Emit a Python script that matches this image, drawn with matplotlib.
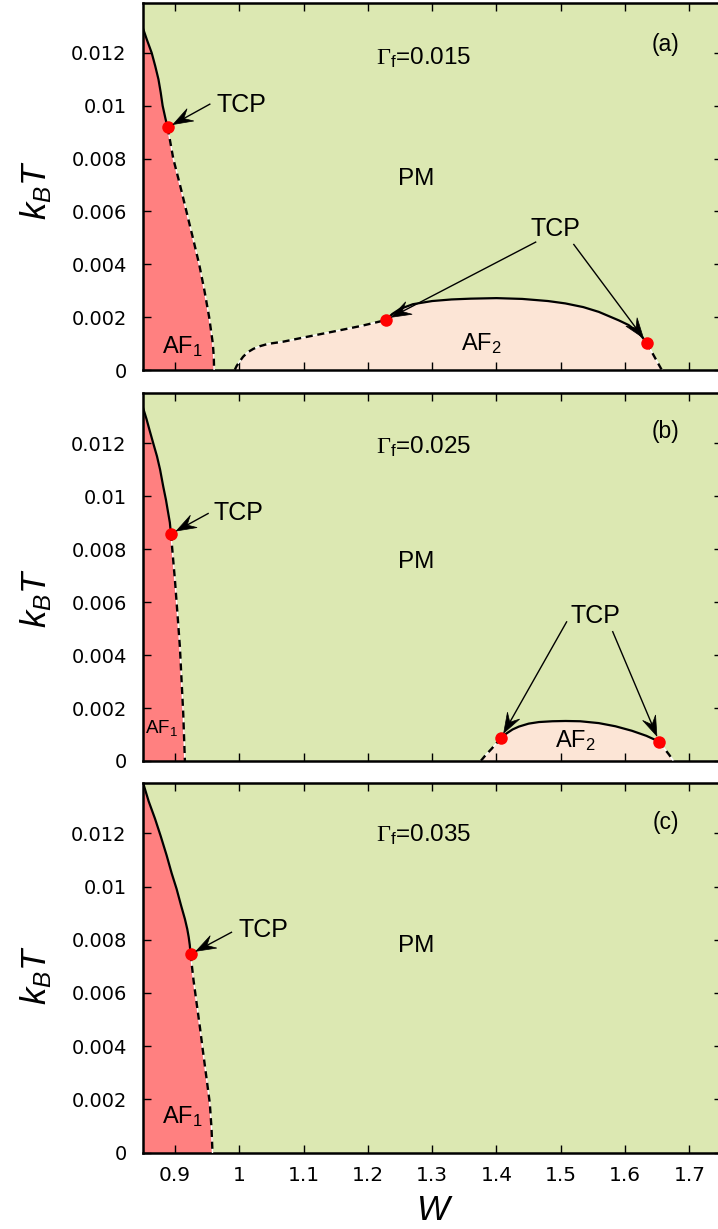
import numpy as np
import matplotlib
matplotlib.use("Agg")
import matplotlib.pyplot as plt
from matplotlib.patches import Polygon
from matplotlib.lines import Line2D
from matplotlib.transforms import IdentityTransform

plt.rcParams['font.family'] = ['Liberation Sans', 'DejaVu Sans']
plt.rcParams['mathtext.fontset'] = 'custom'
plt.rcParams['mathtext.rm'] = 'Liberation Serif'
plt.rcParams['mathtext.sf'] = 'Liberation Sans'
plt.rcParams['mathtext.it'] = 'Liberation Sans:italic'
plt.rcParams['mathtext.bf'] = 'Liberation Sans:bold'

# colours of the phases
c_pm = '#dce8b2'
c_af1 = '#ff8080'
c_af2 = '#fce5d6'

x_ticks = [0.9, 1.0, 1.1, 1.2, 1.3, 1.4, 1.5, 1.6, 1.7]
x_tick_labels = ['0.9', '1', '1.1', '1.2', '1.3', '1.4', '1.5', '1.6', '1.7']
y_ticks = [0, 0.002, 0.004, 0.006, 0.008, 0.010, 0.012]
y_tick_labels = ['0', '0.002', '0.004', '0.006', '0.008', '0.01', '0.012']

gamma_f = ['0.015', '0.025', '0.035']
panel_tags = ['(a)', '(b)', '(c)']

# ---- panel (a), Gamma_f = 0.015 ----
a_af1_sol_T = [0.01296, 0.0125, 0.0120, 0.0115, 0.0110, 0.0105, 0.0100, 0.0095, 0.00918]
a_af1_sol_W = [0.850, 0.8565, 0.864, 0.8695, 0.8745, 0.878, 0.881, 0.8855, 0.8888]
a_af1_dash_T = [0.00918, 0.008, 0.007, 0.006, 0.005, 0.004, 0.003, 0.002, 0.001, 0.0005, 0.0]
a_af1_dash_W = [0.8888, 0.8975, 0.908, 0.918, 0.928, 0.9378, 0.946, 0.9533, 0.959, 0.9605, 0.961]
a_af2_dl_W = [0.993, 0.996, 1.000, 1.006, 1.013, 1.022, 1.032, 1.045, 1.068, 1.100, 1.1455, 1.190, 1.228]
a_af2_dl_T = [0.0, 0.00015, 0.0003, 0.0005, 0.00067, 0.0008, 0.0009, 0.00099, 0.00107, 0.00123,
              0.00145, 0.00167, 0.00189]
a_af2_sol_W = [1.228, 1.238, 1.250, 1.270, 1.300, 1.330, 1.360, 1.400, 1.440, 1.480, 1.507,
               1.535, 1.559, 1.590, 1.6055, 1.620, 1.634]
a_af2_sol_T = [0.00189, 0.00212, 0.00231, 0.00249, 0.00261, 0.00267, 0.0027, 0.00272, 0.00269,
               0.00261, 0.00252, 0.00238, 0.0022, 0.00188, 0.0017, 0.00143, 0.00103]
a_af2_dr_W = [1.634, 1.641, 1.649, 1.657]
a_af2_dr_T = [0.00103, 0.0007, 0.00035, 0.0]
a_tcp_W = [0.8888, 1.228, 1.634]
a_tcp_T = [0.00918, 0.00189, 0.00103]

# ---- panel (b), Gamma_f = 0.025 ----
b_af1_sol_T = [0.01337, 0.0129, 0.0125, 0.01199, 0.0115, 0.0110, 0.01035, 0.00985, 0.00935, 0.0090, 0.00857]
b_af1_sol_W = [0.850, 0.856, 0.8605, 0.8664, 0.8722, 0.877, 0.882, 0.8862, 0.8897, 0.8922, 0.8939]
b_af1_dash_T = [0.00857, 0.0075, 0.00683, 0.0055, 0.00431, 0.003, 0.0018, 0.0009, 0.0]
b_af1_dash_W = [0.8939, 0.8977, 0.9001, 0.9042, 0.9078, 0.9105, 0.913, 0.9143, 0.9156]
b_af2_dl_W = [1.3755, 1.383, 1.392, 1.4066]
b_af2_dl_T = [0.0, 0.00022, 0.00045, 0.000857]
b_af2_sol_W = [1.4066, 1.415, 1.425, 1.435, 1.450, 1.466, 1.487, 1.5074, 1.530, 1.559, 1.585,
               1.6106, 1.633, 1.653]
b_af2_sol_T = [0.000857, 0.00103, 0.00119, 0.0013, 0.00141, 0.00147, 0.0015, 0.00151, 0.0015,
               0.00143, 0.00131, 0.00114, 0.00095, 0.00073]
b_af2_dr_W = [1.653, 1.660, 1.668, 1.6753]
b_af2_dr_T = [0.00073, 0.0005, 0.00025, 0.0]
b_tcp_W = [0.8939, 1.4066, 1.653]
b_tcp_T = [0.00857, 0.000857, 0.00073]

# ---- panel (c), Gamma_f = 0.035 ----
c_af1_sol_T = [0.01394, 0.0132, 0.01255, 0.0119, 0.01117, 0.0105, 0.00991, 0.0093, 0.00878,
               0.0084, 0.0081, 0.0078, 0.00746]
c_af1_sol_W = [0.850, 0.8593, 0.8691, 0.8779, 0.8872, 0.895, 0.9027, 0.9095, 0.9156,
               0.9193, 0.9215, 0.9232, 0.9244]
c_af1_dash_T = [0.00746, 0.0065, 0.00564, 0.0047, 0.00375, 0.0028, 0.00186, 0.0009, 0.0]
c_af1_dash_W = [0.9244, 0.9289, 0.9337, 0.939, 0.944, 0.9492, 0.9543, 0.957, 0.9585]
c_tcp_W = [0.9244]
c_tcp_T = [0.00746]

fig = plt.figure(figsize=(7.18, 12.29), dpi=100)

axes_rect = [
    [0.19875, 0.69894, 0.8063, 0.29886],
    [0.19875, 0.38080, 0.8063, 0.29968],
    [0.19875, 0.06208, 0.8063, 0.30106],
]

af1_data = [
    (a_af1_sol_W, a_af1_sol_T, a_af1_dash_W, a_af1_dash_T),
    (b_af1_sol_W, b_af1_sol_T, b_af1_dash_W, b_af1_dash_T),
    (c_af1_sol_W, c_af1_sol_T, c_af1_dash_W, c_af1_dash_T),
]
af2_data = [
    (a_af2_dl_W, a_af2_dl_T, a_af2_sol_W, a_af2_sol_T, a_af2_dr_W, a_af2_dr_T),
    (b_af2_dl_W, b_af2_dl_T, b_af2_sol_W, b_af2_sol_T, b_af2_dr_W, b_af2_dr_T),
    None,
]
tcp_data = [(a_tcp_W, a_tcp_T), (b_tcp_W, b_tcp_T), (c_tcp_W, c_tcp_T)]

dash = (0, (3, 2))


def dashed(ax, W, T):
    ax.plot(W, T, color='white', lw=1.0, zorder=3)
    ax.plot(W, T, color='black', lw=1.7, ls=dash, zorder=3)


def arrow(ax, tail, tip, L=20, hw=7.0, back=0.62, gap=6.0):
    # gnuplot-like arrow with a notched filled head, built in pixel space
    p0 = ax.transData.transform(tail)
    p1 = ax.transData.transform(tip)
    d = p1 - p0
    u = d / np.hypot(*d)
    v = np.array([-u[1], u[0]])
    tp = p1 - u * gap
    base = tp - u * L
    notch = tp - u * L * back
    head = Polygon([tp, base + v * hw, notch, base - v * hw], closed=True,
                   transform=IdentityTransform(), fc='black', ec='black',
                   lw=0.5, zorder=7)
    line = Line2D([p0[0], notch[0]], [p0[1], notch[1]], color='black', lw=1.0,
                  transform=IdentityTransform(), zorder=7)
    fig.add_artist(line)
    fig.add_artist(head)


axs = []
for i in range(3):
    ax = fig.add_axes(axes_rect[i])
    axs.append(ax)
    ax.set_facecolor(c_pm)
    ax.set_xlim(0.85, 1.75)
    ax.set_ylim(0, 0.0139)

    sW, sT, dW, dT = af1_data[i]
    ax.fill_betweenx(sT + dT, 0.85, sW + dW, color=c_af1, lw=0, zorder=1)
    ax.plot(sW, sT, color='black', lw=1.6, zorder=3)
    dashed(ax, dW, dT)

    if af2_data[i] is not None:
        lW, lT, mW, mT, rW, rT = af2_data[i]
        ax.fill_between(lW + mW + rW, 0, lT + mT + rT, color=c_af2, lw=0, zorder=1)
        dashed(ax, lW, lT)
        ax.plot(mW, mT, color='black', lw=1.6, zorder=3)
        dashed(ax, rW, rT)

    tW, tT = tcp_data[i]
    ax.plot(tW, tT, 'o', color='#ff0000', ms=9, mec='none', zorder=5)

    ax.set_xticks(x_ticks)
    ax.set_yticks(y_ticks)
    ax.set_yticklabels(y_tick_labels)
    if i == 2:
        ax.set_xticklabels(x_tick_labels)
    else:
        ax.set_xticklabels([])
    ax.tick_params(axis='both', direction='in', length=5.8, width=1.0,
                   top=True, right=True, colors='black')
    ax.tick_params(axis='y', labelsize=14, pad=11.5)
    ax.tick_params(axis='x', labelsize=14.5, pad=9.6)
    for lbl in ax.get_xticklabels() + ax.get_yticklabels():
        lbl.set_fontfamily('DejaVu Sans')
    for sp in ax.spines.values():
        sp.set_linewidth(1.8)

    ax.text(1.2128, [0.01157, 0.01162, 0.01172][i],
            r'$\Gamma_\mathsf{f}$=' + gamma_f[i], fontsize=17.5,
            ha='left', va='baseline', zorder=6)
    ax.text(1.6635, [0.0123, 0.01245, 0.0124][i], panel_tags[i],
            fontsize=16.5, ha='center', va='center', zorder=6)
    ax.text(1.2747, [0.00702, 0.00728, 0.00754][i], 'PM',
            fontsize=17.5, ha='center', va='baseline', zorder=6)

# panel (a) labels and arrows
ax = axs[0]
ax.text(0.8795, 0.00063, r'AF$_\mathsf{1}$', fontsize=17, ha='left', va='baseline', zorder=6)
ax.text(1.3446, 0.000755, r'AF$_\mathsf{2}$', fontsize=17, ha='left', va='baseline', zorder=6)
ax.text(0.9647, 0.00975, 'TCP', fontsize=18, ha='left', va='baseline', zorder=6)
arrow(ax, (0.9543, 0.01006), (a_tcp_W[0], a_tcp_T[0]))
ax.text(1.4531, 0.00509, 'TCP', fontsize=18, ha='left', va='baseline', zorder=6)
arrow(ax, (1.4609, 0.00484), (a_tcp_W[1], a_tcp_T[1]))
arrow(ax, (1.5202, 0.00475), (a_tcp_W[2], a_tcp_T[2]))

# panel (b)
ax = axs[1]
ax.text(0.8536, 0.00105, r'AF$_\mathsf{1}$', fontsize=13.5, ha='left', va='baseline', zorder=6)
ax.text(1.4908, 0.000539, r'AF$_\mathsf{2}$', fontsize=17, ha='left', va='baseline', zorder=6)
ax.text(0.9595, 0.00909, 'TCP', fontsize=18, ha='left', va='baseline', zorder=6)
arrow(ax, (0.9517, 0.00934), (b_tcp_W[0], b_tcp_T[0]))
ax.text(1.5151, 0.0052, 'TCP', fontsize=18, ha='left', va='baseline', zorder=6)
arrow(ax, (1.509, 0.00525), (b_tcp_W[1], b_tcp_T[1]))
arrow(ax, (1.5807, 0.00488), (b_tcp_W[2], b_tcp_T[2]))

# panel (c)
ax = axs[2]
ax.text(0.8795, 0.00111, r'AF$_\mathsf{1}$', fontsize=17, ha='left', va='baseline', zorder=6)
ax.text(0.9982, 0.00809, 'TCP', fontsize=18, ha='left', va='baseline', zorder=6)
arrow(ax, (0.988, 0.00828), (c_tcp_W[0], c_tcp_T[0]))

# axis labels
for yc in [0.8454, 0.5134, 0.2066]:
    fig.text(0.0501, yc, r'$k_B T$', fontsize=25, rotation=90,
             ha='center', va='center')
fig.text(0.6052, 0.002, r'$W$', fontsize=25, ha='center', va='bottom')

fig.savefig('out.png', dpi=100)
